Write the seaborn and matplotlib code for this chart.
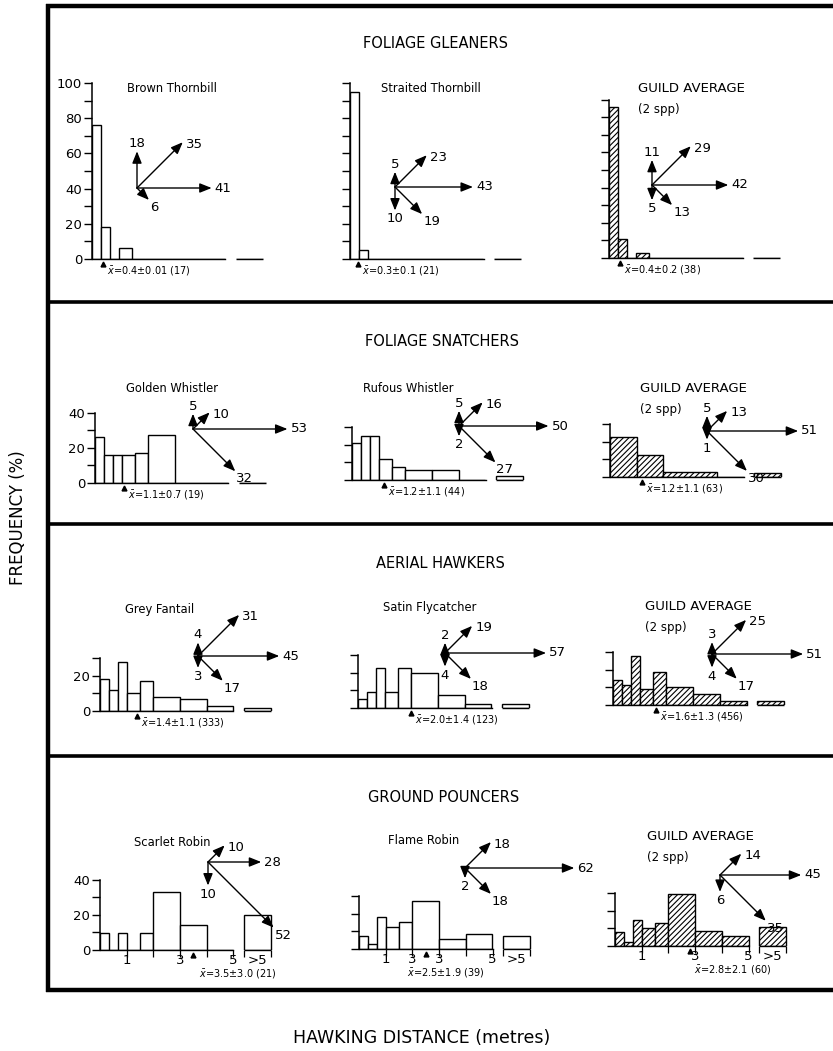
import numpy as np
import matplotlib
matplotlib.use("Agg")
import matplotlib.pyplot as plt
import seaborn as sns

sns.set_style("white")
plt.rcParams["font.family"] = ["DejaVu Sans"]
plt.rcParams["mathtext.fontset"] = "dejavusans"
plt.rcParams["hatch.linewidth"] = 0.8
for key in ["text.color", "axes.labelcolor", "xtick.color", "ytick.color", "axes.edgecolor"]:
    plt.rcParams[key] = "black"

# ------------------------------------------------------------------ data
GUILDS = ["FOLIAGE GLEANERS", "FOLIAGE SNATCHERS", "AERIAL HAWKERS", "GROUND POUNCERS"]
PANEL_NAMES = ["Brown Thornbill", "Straited Thornbill", "GUILD AVERAGE",
               "Golden Whistler", "Rufous Whistler", "GUILD AVERAGE",
               "Grey Fantail", "Satin Flycatcher", "GUILD AVERAGE",
               "Scarlet Robin", "Flame Robin", "GUILD AVERAGE"]

# hawking-distance classes (metres)
BIN_EDGES = [0, 1/3, 2/3, 1, 1.5, 2, 3, 4, 5]
SNATCHER_GUILD_EDGES = [0, 1, 2, 4, 5]
OVER5_EDGES = [5.4, 6.4]          # the ">5" class

# frequency (%) per distance class
brown_thornbill = [76, 18, 0, 6, 0, 0, 0, 0]
straited_thornbill = [95, 5, 0, 0, 0, 0, 0, 0]
gleaner_guild = [86, 11, 0, 3, 0, 0, 0, 0]
golden_whistler = [26, 16, 16, 16, 17, 27, 0, 0]
rufous_whistler = [21, 25, 25, 12, 7.5, 5.5, 5.5, 0]
snatcher_guild = [22.5, 12.5, 3, 0]
grey_fantail = [18, 12, 28, 10, 17, 8, 7, 3]
satin_flycatcher = [5, 9, 23, 9, 23, 20, 7.5, 2]
hawker_guild = [14, 11.5, 28, 9, 18.5, 10, 6, 2]
scarlet_robin = [9.5, 0, 9.5, 0, 9.5, 33, 14, 0]
flame_robin = [7.5, 3, 18, 12.5, 15.5, 27, 5.5, 8.5]
pouncer_guild = [8, 2.5, 15, 10, 13, 29.5, 8.5, 5.5]
over5 = [0, 0, 0, 0, 2, 2, 1.5, 2.5, 2, 20, 7.5, 11]

mean_dist = ["0.4", "0.3", "0.4", "1.1", "1.2", "1.2", "1.4", "2.0", "1.6", "3.5", "2.5", "2.8"]
sd_dist = ["0.01", "0.1", "0.2", "0.7", "1.1", "1.1", "1.1", "1.4", "1.3", "3.0", "1.9", "2.1"]
n_obs = [17, 21, 38, 19, 44, 63, 333, 123, 456, 21, 39, 60]

# direction of attack (%): up, up-diagonal, horizontal, down-diagonal, down
dir_up = [18, 5, 11, 5, 5, 5, 4, 2, 3, 0, 0, 0]
dir_updiag = [35, 23, 29, 10, 16, 13, 31, 19, 25, 10, 18, 14]
dir_horiz = [41, 43, 42, 53, 50, 51, 45, 57, 51, 28, 62, 45]
dir_downdiag = [6, 19, 13, 32, 27, 30, 17, 18, 17, 52, 18, 35]
dir_down = [0, 10, 5, 0, 2, 1, 3, 4, 4, 10, 2, 6]

y_axis_top = [100, 100, 90, 40, 30, 30, 30, 30, 30, 40, 30, 30]
y_label_panels = {0: [0, 20, 40, 60, 80, 100], 3: [0, 20, 40], 6: [0, 20], 9: [0, 20, 40]}
x_labels_scarlet = ["1", "3", "5", ">5"]
x_labels_flame = ["1", "3", "3", "5", ">5"]

# ------------------------------------------------------------------ layout
W, H = 833, 1051
PX_X = 26.7      # pixels per metre
PX_Y = 1.76      # pixels per percent
XMAX = 6.7

hist_values = [brown_thornbill, straited_thornbill, gleaner_guild,
               golden_whistler, rufous_whistler, snatcher_guild,
               grey_fantail, satin_flycatcher, hawker_guild,
               scarlet_robin, flame_robin, pouncer_guild]
hist_edges = [BIN_EDGES] * 12
hist_edges[5] = SNATCHER_GUILD_EDGES

axis_origin = [(92, 259), (350, 259), (609, 258),
               (95, 483), (352, 480), (610, 477),
               (100, 711), (358, 708), (613, 705),
               (100, 950), (359, 949), (615, 946)]
arrow_origin = [(137, 188), (395, 187), (652, 185),
                (193, 429), (459, 426), (707, 431),
                (198, 656), (445, 653), (712, 654),
                (208, 862), (465, 868), (720, 875)]
name_pos = [(172, 88), (431, 88), (638, 88),
            (172, 389), (408, 389), (640, 388),
            (160, 610), (430, 608), (645, 606),
            (172, 842), (424, 840), (647, 836)]
guild_title_pos = [(436, 43), (442, 342), (440, 563), (444, 797)]
mean_text_offset = [0.15] * 9 + [0.2, -0.7, 0.15]

fig = plt.figure(figsize=(W / 100, H / 100), dpi=100)
fig.patch.set_facecolor("white")

for i in range(12):
    x0, yb = axis_origin[i]
    ytop = y_axis_top[i]
    ax = fig.add_axes([x0 / W, 1 - yb / H, XMAX * PX_X / W, ytop * PX_Y / H])
    ax.patch.set_alpha(0)
    guild = (i % 3 == 2)
    style = dict(fill=True, color="white", edgecolor="black", linewidth=1.0, alpha=1,
                 stat="count", element="bars")
    if guild:
        style["hatch"] = "//////"
    edges = hist_edges[i]
    centers = [(edges[k] + edges[k + 1]) / 2 for k in range(len(edges) - 1)]
    sns.histplot(x=centers, weights=hist_values[i], bins=edges, ax=ax, **style)
    sns.histplot(x=[np.mean(OVER5_EDGES)], weights=[over5[i]], bins=OVER5_EDGES, ax=ax, **style)
    # baseline of the ">5" class
    ax.plot(OVER5_EDGES, [0, 0], color="black", lw=1.0, clip_on=False, solid_capstyle="butt")
    ax.set_xlim(0, XMAX)
    ax.set_ylim(0, ytop)
    ax.set_xlabel("")
    ax.set_ylabel("")
    for s in ["top", "right"]:
        ax.spines[s].set_visible(False)
    ax.spines["left"].set_linewidth(1.1)
    ax.spines["bottom"].set_linewidth(1.0)
    ax.spines["bottom"].set_bounds(0, 5)
    ax.spines["left"].set_bounds(0, ytop)
    ticks = list(range(0, ytop + 1, 10))
    labs = [str(t) if (i in y_label_panels and t in y_label_panels[i]) else "" for t in ticks]
    ax.set_yticks(ticks)
    ax.set_yticklabels(labs)
    ax.tick_params(axis="y", direction="out", length=6, width=1, labelsize=9.5, pad=1, left=True)
    if i >= 9:
        ax.xaxis.remove_overlapping_locs = False
        ax.set_xticks([1, 2, 3, 4, 5, 5.4, 6.4])
        ax.set_xticklabels([""] * 7)
        ax.tick_params(axis="x", which="major", direction="out", length=5, width=0.9, bottom=True)
        if i == 10:
            ax.set_xticks([1, 2, 3, 5, 5.9], minor=True)
            ax.set_xticklabels(x_labels_flame, minor=True)
        else:
            ax.set_xticks([1, 3, 5, 5.9], minor=True)
            ax.set_xticklabels(x_labels_scarlet, minor=True)
        ax.tick_params(axis="x", which="minor", length=0, labelsize=9.5, pad=3, bottom=True)
        text_y = -14
    else:
        ax.set_xticks([])
        text_y = -7
    m = float(mean_dist[i])
    ax.plot([m], [-2.6], marker="^", ms=3.5, color="black", clip_on=False, lw=0)
    ax.text(m + mean_text_offset[i], text_y,
            r"$\bar{x}$" + f"={mean_dist[i]}±{sd_dist[i]} ({n_obs[i]})",
            fontsize=7, ha="left", va="center", clip_on=False)

# ------------------------------------------------------------------ overlay (pixel coords)
ov = fig.add_axes([0, 0, 1, 1])
ov.set_xlim(0, W)
ov.set_ylim(H, 0)
ov.axis("off")

# frame and separators
frame_kw = dict(color="black", solid_capstyle="butt")
ov.plot([48, 48], [4, 992], lw=3.2, **frame_kw)
ov.plot([46, 833], [6, 6], lw=3.2, **frame_kw)
ov.plot([46, 833], [990, 990], lw=3.2, **frame_kw)
for ysep in [302, 524, 756]:
    ov.plot([48, 833], [ysep, ysep], lw=2.6, **frame_kw)

for g, (gx, gy) in zip(GUILDS, guild_title_pos):
    ov.text(gx, gy, g, fontsize=10.5, ha="center", va="center")

for i, name in enumerate(PANEL_NAMES):
    nx, ny = name_pos[i]
    if i % 3 == 2:
        ov.text(nx, ny, name, fontsize=9.5, ha="left", va="center")
        ov.text(nx, ny + 21, "(2 spp)", fontsize=8.5, ha="left", va="center")
    else:
        ov.text(nx, ny, name, fontsize=8.3, ha="center", va="center")

HEAD = 7.0
PX_PER_PCT = 1.65
dirs = [(0, -1), (0.7071, -0.7071), (1, 0), (0.7071, 0.7071), (0, 1)]
label_kw = [dict(dx=0, dy=-1, ha="center", va="bottom"),
            dict(dx=3, dy=2, ha="left", va="center"),
            dict(dx=3, dy=0, ha="left", va="center"),
            dict(dx=1, dy=1, ha="left", va="top"),
            dict(dx=0, dy=2, ha="center", va="top")]
for i in range(12):
    ox, oy = arrow_origin[i]
    vals = [dir_up[i], dir_updiag[i], dir_horiz[i], dir_downdiag[i], dir_down[i]]
    for d, v in enumerate(vals):
        if v <= 0:
            continue
        L = HEAD + PX_PER_PCT * v
        ux, uy = dirs[d]
        tx, ty = ox + ux * L, oy + uy * L
        ov.annotate("", xy=(tx, ty), xytext=(ox, oy),
                    arrowprops=dict(arrowstyle="-|>,head_length=0.55,head_width=0.22",
                                    lw=1.0, color="black", shrinkA=0, shrinkB=0,
                                    mutation_scale=13))
        lk = label_kw[d]
        ov.text(tx + lk["dx"], ty + lk["dy"], str(v), fontsize=9.5,
                ha=lk["ha"], va=lk["va"])

fig.text(18 / W, 1 - 518 / H, "FREQUENCY (%)", rotation=90, fontsize=12,
         ha="center", va="center")
fig.text(422 / W, 1 - 1038 / H, "HAWKING DISTANCE (metres)", fontsize=12.5,
         ha="center", va="center")

fig.savefig("out.png", dpi=100, facecolor="white")
